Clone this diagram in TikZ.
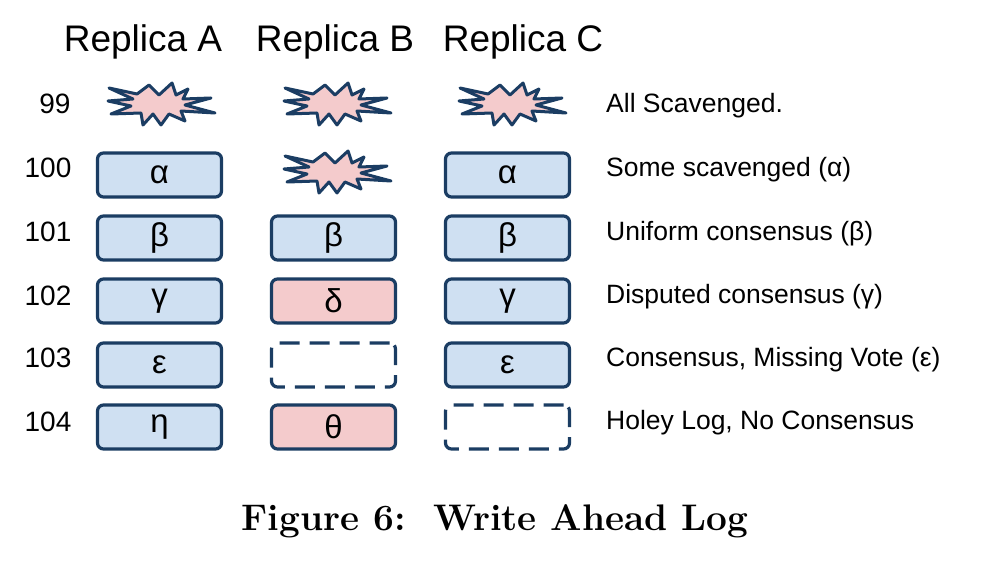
\documentclass[tikz,border=0pt]{standalone}
\usepackage{fontspec}
\setmainfont{Liberation Sans}
\newfontfamily\capfont{Latin Modern Roman}
\definecolor{edge}{HTML}{1B3D63}
\definecolor{blu}{HTML}{CFE0F2}
\definecolor{pnk}{HTML}{F4CBCC}
\begin{document}
\begin{tikzpicture}[x=1pt,y=-1pt,
  box/.style={draw=edge,line width=3.2pt,rounded corners=6pt,minimum width=124pt,minimum height=44pt,inner sep=0pt,font=\fontsize{33}{33}\selectfont},
  ok/.style={box,fill=blu},
  bad/.style={box,fill=pnk},
  hole/.style={box,dash pattern=on 20pt off 10pt},
  hdr/.style={font=\fontsize{37}{37}\selectfont},
  num/.style={font=\fontsize{28}{28}\selectfont},
  lbl/.style={font=\fontsize{26.5}{26.5}\selectfont,anchor=west,inner sep=0pt}]
\useasboundingbox (0,0) rectangle (1000,580);
\newcommand{\burst}[2]{%
  \draw[draw=edge,line width=3pt,fill=pnk,line join=round] (#1,#2)
  +(-52,-15) -- +(-24,-9) -- +(-12,-18) -- +(-2,-8) -- +(11,-20) -- +(15,-8) -- +(27,-14) -- +(22,-4) -- +(50,-5) -- +(24,2) -- +(54,10) -- +(20,8) -- +(24,18) -- +(8,11) -- +(0,22) -- +(-8,11) -- +(-18,22) -- +(-20,10) -- +(-50,11) -- +(-30,3) -- +(-53,-2) -- +(-28,-4) -- cycle;}
\node[hdr] (ha) at (143,42) {Replica A};
\node[hdr] (hb) at (335,42) {Replica B};
\node[hdr] (hc) at (523,42) {Replica C};
\node[num] (n99) at (55,104) {99};
\node[num] (n100) at (48,168) {100};
\node[num] (n101) at (48,232) {101};
\node[num] (n102) at (48,296) {102};
\node[num] (n103) at (48,358) {103};
\node[num] (n104) at (48,422) {104};
\burst{161}{103}
\burst{337}{103}
\burst{512}{103}
\burst{337}{171}
\node[ok] (a100) at (159.5,175) {α};
\node[ok] (c100) at (507.5,175) {α};
\node[ok] (a101) at (159.5,238) {β};
\node[ok] (b101) at (333.5,238) {β};
\node[ok] (c101) at (507.5,238) {β};
\node[ok] (a102) at (159.5,301) {γ};
\node[bad] (b102) at (333.5,301) {δ};
\node[ok] (c102) at (507.5,301) {γ};
\node[ok] (a103) at (159.5,365) {ε};
\node[hole] (b103) at (333.5,365) {};
\node[ok] (c103) at (507.5,365) {ε};
\node[ok] (a104) at (159.5,427) {η};
\node[bad] (b104) at (333.5,427) {θ};
\node[hole] (c104) at (507.5,427) {};
\node[lbl] (l99) at (606,106) {All Scavenged.};
\node[lbl] (l100) at (606,170) {Some scavenged (α)};
\node[lbl] (l101) at (606,234) {Uniform consensus (β)};
\node[lbl] (l102) at (606,297) {Disputed consensus (γ)};
\node[lbl] (l103) at (606,360) {Consensus, Missing Vote (ε)};
\node[lbl] (l104) at (606,423) {Holey Log, No Consensus};
\node[font=\capfont\bfseries\fontsize{37}{37}\selectfont] (cap) at (495,521) {Figure 6:\ \ Write Ahead Log};
\end{tikzpicture}
\end{document}
